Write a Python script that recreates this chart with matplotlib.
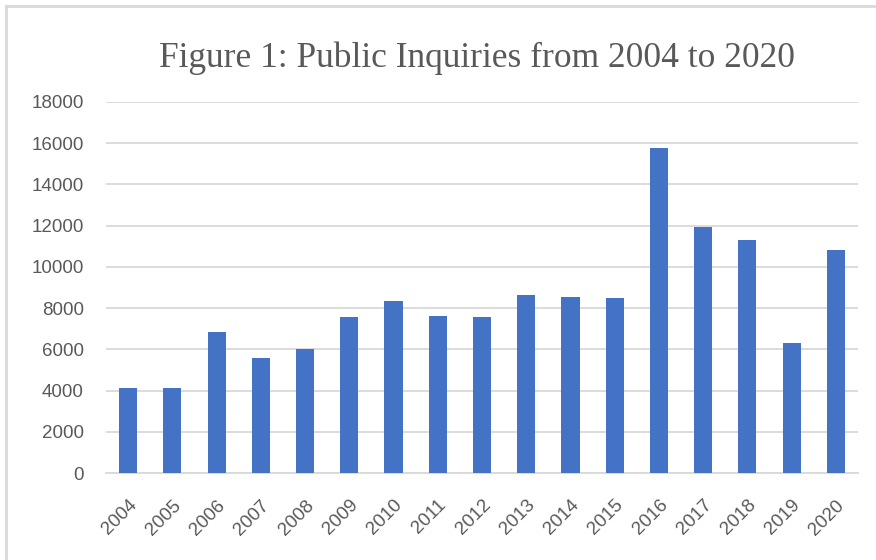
import numpy as np
import matplotlib.pyplot as plt
from matplotlib.lines import Line2D

# dados
anos = ["2004", "2005", "2006", "2007", "2008", "2009", "2010", "2011", "2012",
        "2013", "2014", "2015", "2016", "2017", "2018", "2019", "2020"]
consultas = [4100, 4100, 6830, 5600, 6040, 7590, 8340, 7640, 7590,
             8640, 8530, 8470, 15750, 11940, 11310, 6330, 10810]
yticks = [0, 2000, 4000, 6000, 8000, 10000, 12000, 14000, 16000, 18000]

cor_barra = "#4472c4"
cor_texto = "#595959"
cor_grade = "#d9d9d9"

fig = plt.figure(figsize=(8.76, 5.6), dpi=100)
ax = fig.add_axes([106/876, 87/560, 752/876, 371/560])

x = np.arange(len(anos))
ax.bar(x, consultas, width=0.41, color=cor_barra, zorder=3)

ax.set_xlim(-0.5, len(anos) - 0.5)
ax.set_ylim(0, 18000)
ax.set_yticks(yticks)
ax.set_yticklabels([str(v) for v in yticks])
ax.set_xticks(x)
ax.set_xticklabels(anos, rotation=45, ha="right", va="top", rotation_mode="anchor")

ax.grid(axis="y", color=cor_grade, lw=1.3, zorder=0)
for s in ["top", "right", "left"]:
    ax.spines[s].set_visible(False)
ax.spines["bottom"].set_color(cor_grade)
ax.spines["bottom"].set_linewidth(1.3)

ax.tick_params(axis="y", length=0, pad=16, labelsize=13.5, labelcolor=cor_texto)
ax.tick_params(axis="x", length=0, pad=17, labelsize=13.5, labelcolor=cor_texto)
for lab in ax.get_xticklabels() + ax.get_yticklabels():
    lab.set_fontfamily("Liberation Sans")

fig.text(0.545, 1 - 67/560, "Figure 1: Public Inquiries from 2004 to 2020",
         ha="center", va="baseline", fontsize=25.5, color=cor_texto,
         family="Liberation Serif")

# moldura cinza do gráfico (só topo e esquerda aparecem)
fig.add_artist(Line2D([6/876, 1], [1 - 6/560, 1 - 6/560], color=cor_grade,
                      lw=2, transform=fig.transFigure))
fig.add_artist(Line2D([6/876, 6/876], [0, 1 - 6/560], color=cor_grade,
                      lw=2, transform=fig.transFigure))

fig.savefig("out.png", dpi=100)
